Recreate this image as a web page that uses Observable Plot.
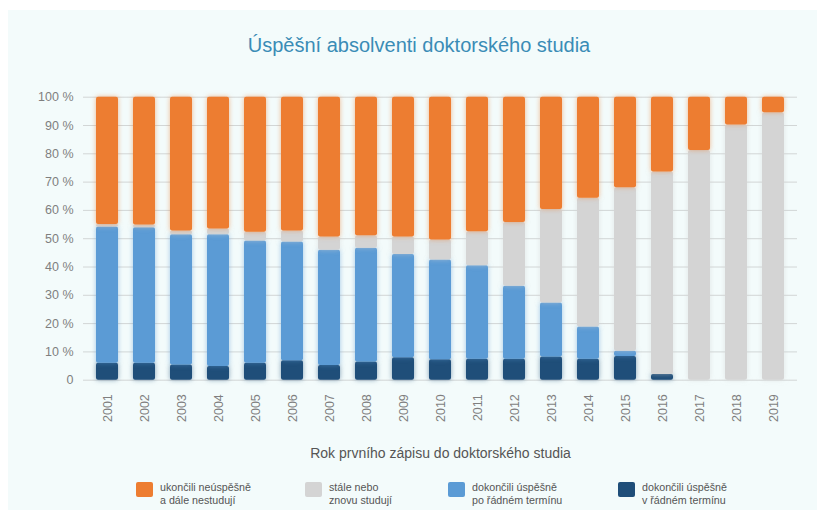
<!DOCTYPE html>
<html><head><meta charset="utf-8">
<script src="https://cdn.jsdelivr.net/npm/d3@7"></script>
<script src="https://cdn.jsdelivr.net/npm/@observablehq/plot@0.6"></script>
<style>
body{margin:0;background:#fff;font-family:"Liberation Sans",Arial,sans-serif;}
#wrap{position:relative;width:817px;height:510px;overflow:hidden;}
#panel{position:absolute;left:8px;top:10px;right:0;bottom:0;background:#f3fbfb;}
#title{position:absolute;top:33px;left:0;width:838px;text-align:center;font-size:20px;color:#3a8cb6;line-height:24px;}
#chart{position:absolute;left:0;top:80px;}
.leg{position:absolute;top:481px;font-size:10.7px;line-height:13px;color:#555;}
.leg .sw{position:absolute;left:0;top:1px;width:17px;height:15px;border-radius:2px;}
.leg .tx{position:absolute;left:24px;top:0;white-space:nowrap;}
</style></head>
<body>
<div id="wrap">
  <div id="panel"></div>
  <div id="title">Úspěšní absolventi doktorského studia</div>
  <div id="chart"></div>
  <div id="legend"></div>
</div>
<script>
const years = ["2001","2002","2003","2004","2005","2006","2007","2008","2009","2010","2011","2012","2013","2014","2015","2016","2017","2018","2019"];
const seriesNames = ["dokončili úspěšně v řádném termínu","dokončili úspěšně po řádném termínu","stále nebo znovu studují","ukončili neúspěšně a dále nestudují"];
const seriesColors = ["#1f4e79","#5b9bd5","#d4d4d4","#ed7d31"];
// percentage shares per year
const inTime   = [6.0,6.0,5.4,4.8,6.0,6.9,5.2,6.4,7.9,7.2,7.4,7.4,8.2,7.4,8.4,2.0,0,0,0];
const afterTime= [48.1,47.9,46.0,46.6,43.2,41.9,40.7,40.2,36.5,35.3,33.0,25.8,19.1,11.4,1.8,0,0,0,0];
const studying = [0.9,0.9,1.3,2.0,3.1,3.9,4.7,4.4,6.2,7.0,12.1,22.5,33.0,45.5,57.8,71.6,81.2,90.2,94.5];
const failed   = [45.0,45.2,47.3,46.6,47.7,47.3,49.4,49.0,49.4,50.5,47.5,44.3,39.7,35.7,32.0,26.4,18.8,9.8,5.5];
const yTicks = [0,10,20,30,40,50,60,70,80,90,100];
const xTitle = "Rok prvního zápisu do doktorského studia";
const legendLabels = [["ukončili neúspěšně","a dále nestudují"],["stále nebo","znovu studují"],["dokončili úspěšně","po řádném termínu"],["dokončili úspěšně","v řádném termínu"]];
const legendColors = ["#ed7d31","#d4d4d4","#5b9bd5","#1f4e79"];
const legendX = [136,305,448,618];

const rows = [];
const seriesVals = [inTime, afterTime, studying, failed];
years.forEach((y,i)=>seriesNames.forEach((s,j)=>rows.push({year:y, series:s, value:seriesVals[j][i]})));

const chart = Plot.plot({
  width: 817, height: 390,
  marginLeft: 83, marginRight: 20, marginTop: 16.7, marginBottom: 90.3,
  style: {fontFamily: "'Liberation Sans', Arial, sans-serif", background: "transparent", color: "#7f7f7f", fontSize: "12px"},
  x: {type: "band", domain: years, paddingInner: 0.405, paddingOuter: 0.35, label: null},
  y: {domain: [0,100], label: null},
  color: {domain: seriesNames, range: seriesColors},
  marks: [
    Plot.ruleY(yTicks, {stroke: "#d2d6d6", strokeWidth: 1}),
    Plot.barY(rows, {x: "year", y: "value", fill: "series", order: seriesNames, rx: 2}),
    Plot.axisY({ticks: yTicks, tickSize: 0, tickPadding: 10, tickFormat: d => d === 0 ? "0" : d + " %", fontSize: 12.5, label: null}),
    Plot.axisX({tickSize: 0, tickPadding: 14, tickRotate: -90, fontSize: 12.5, label: null}),
    Plot.text([xTitle], {text: d => d, frameAnchor: "bottom", dy: 78, fontSize: 14, fill: "#555"})
  ]
});
document.getElementById("chart").appendChild(chart);
// soft glow around bars
d3.select(chart).selectAll("rect").each(function(){
  const f = this.getAttribute("fill");
  if (f) this.style.filter = `drop-shadow(0 0 2.5px ${f}88)`;
});

const leg = document.getElementById("legend");
legendLabels.forEach((lines,i)=>{
  const d = document.createElement("div");
  d.className = "leg";
  d.style.left = legendX[i] + "px";
  d.innerHTML = `<div class="sw" style="background:${legendColors[i]}"></div><div class="tx">${lines.join("<br>")}</div>`;
  leg.appendChild(d);
});
</script>
</body></html>
